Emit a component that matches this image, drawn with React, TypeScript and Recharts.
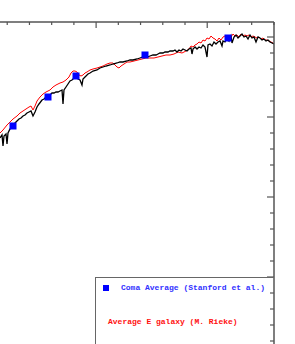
import React from "react";
import { ComposedChart, Line, Scatter, XAxis, YAxis, Legend } from "recharts";

// wavelength (arbitrary units) and normalized flux
const blackWl = [3135,3153,3162,3171,3189,3198,3207,3225,3252,3270,3288,3306,3324,3342,3360,3378,3396,3414,3432,3450,3468,3486,3513,3531,3549,3567,3585,3603,3621,3639,3657,3675,3693,3702,3711,3729,3747,3765,3783,3801,3819,3837,3855,3873,3882,3900,3927,3945,3972,4008,4035,4062,4089,4125,4152,4188,4215,4242,4278,4305,4332,4368,4395,4422,4458,4485,4512,4539,4557,4575,4602,4620,4647,4665,4692,4710,4728,4746,4764,4782,4800,4818,4836,4854,4863,4872,4890,4908,4926,4944,4962,4980,4998,5007,5025,5043,5061,5079,5097,5115,5133,5142,5160,5178,5196,5214,5223,5241,5259,5277,5295,5313,5331,5349,5367,5385,5403,5421,5439,5457,5475,5493,5511,5529,5547,5565,5583,5601];
const blackFlux = [0.7475,0.755,0.7275,0.7525,0.7575,0.7325,0.76,0.77,0.7775,0.785,0.79,0.795,0.7975,0.8025,0.805,0.81,0.8125,0.815,0.8025,0.8125,0.825,0.8325,0.8425,0.845,0.85,0.8525,0.855,0.86,0.86,0.8625,0.8625,0.865,0.8675,0.8325,0.8675,0.875,0.8825,0.89,0.8925,0.8975,0.9,0.895,0.8925,0.88,0.895,0.9,0.9075,0.91,0.915,0.9175,0.9225,0.925,0.9275,0.93,0.9325,0.935,0.9375,0.9375,0.94,0.9425,0.9425,0.945,0.9475,0.95,0.95,0.9525,0.955,0.955,0.9575,0.96,0.96,0.9625,0.9625,0.965,0.965,0.9675,0.9625,0.9675,0.965,0.97,0.9675,0.965,0.97,0.9725,0.9575,0.97,0.975,0.97,0.975,0.9725,0.98,0.975,0.95,0.98,0.9825,0.9775,0.9875,0.9825,0.9875,0.99,0.9775,0.99,0.9875,0.9975,0.99,1.0025,0.985,1.0,1.005,0.9975,1.0025,1.0075,1.0,1.0025,0.995,1.005,0.9975,1.0,0.9875,1.0,0.9975,0.9925,0.995,0.99,0.9925,0.9875,0.985,0.9825];

const redWl = [3135,3162,3198,3225,3252,3288,3315,3342,3369,3396,3414,3432,3450,3468,3495,3522,3549,3585,3612,3639,3675,3702,3729,3756,3774,3792,3810,3828,3846,3864,3882,3900,3918,3945,3972,4008,4035,4062,4098,4125,4152,4170,4188,4206,4224,4251,4278,4305,4341,4377,4413,4449,4485,4521,4557,4593,4629,4665,4701,4737,4773,4809,4836,4854,4872,4890,4908,4926,4944,4962,4980,4998,5016,5034,5052,5070,5088,5106,5124,5142,5160,5178,5196,5214,5232,5250,5268,5286,5304,5322,5340,5358,5376,5394,5412,5430,5448,5466,5484,5502,5520,5538,5556,5574,5592,5601];
const redFlux = [0.76,0.7675,0.78,0.7875,0.795,0.8025,0.81,0.815,0.82,0.825,0.8275,0.8175,0.8275,0.84,0.85,0.8575,0.8625,0.8675,0.875,0.88,0.885,0.8875,0.8925,0.9,0.91,0.915,0.915,0.9125,0.905,0.9025,0.905,0.91,0.9125,0.9175,0.92,0.9225,0.925,0.9275,0.9325,0.935,0.935,0.93,0.925,0.9225,0.9275,0.9325,0.9375,0.9375,0.94,0.9425,0.945,0.9475,0.9475,0.9475,0.95,0.9525,0.955,0.955,0.9575,0.9625,0.96,0.965,0.97,0.9775,0.975,0.98,0.9825,0.9875,0.985,0.9925,0.99,0.9975,0.995,1.0025,0.9975,0.995,0.99,0.9975,0.9925,1.0,1.0025,0.9975,1.005,1.0,1.0075,1.0025,1.005,1.0,1.0075,1.0025,1.005,1.0025,1.005,1.0,1.0025,1.0,0.9975,1.0,0.995,0.9975,0.9925,0.9925,0.99,0.9875,0.985,0.9825];

const comaWl = [3252, 3567, 3819, 4440, 5187];
const comaFlux = [0.7775, 0.85, 0.9025, 0.955, 0.9975];

const xTicks = [3200,3400,3600,3800,4000,4200,4400,4600,4800,5000,5200,5400,5600];
const xMajor = [4000, 5000];
const yTicks = [1.0,0.96,0.92,0.88,0.84,0.8,0.76,0.72,0.68,0.64,0.6,0.56,0.52,0.48,0.44,0.4,0.36,0.32,0.28,0.24,0.2];
const yMajor = [1.0, 0.8, 0.6, 0.4, 0.2];

const legendLabels = ["Coma Average (Stanford et al.)", "Average E galaxy (M. Rieke)"];

const blackData = blackWl.map((wl, i) => ({ wl, flux: blackFlux[i] }));
const redData = redWl.map((wl, i) => ({ wl, flux: redFlux[i] }));
const comaData = comaWl.map((wl, i) => ({ wl, flux: comaFlux[i] }));

const AXIS = "#555";

const TopTick = (props: any) => {
  const { x, y, payload } = props;
  const major = xMajor.includes(payload.value);
  return <line x1={x} x2={x} y1={y} y2={y + (major ? 6 : 3)} stroke={AXIS} strokeWidth={1.2} />;
};

const RightTick = (props: any) => {
  const { x, y, payload } = props;
  const major = yMajor.some((m) => Math.abs(m - payload.value) < 1e-6);
  return <line x1={x} x2={x - (major ? 7 : 4)} y1={y} y2={y} stroke={AXIS} strokeWidth={1.2} />;
};

const SquareShape = (props: any) => {
  const { cx, cy } = props;
  return <rect x={cx - 3.5} y={cy - 3.5} width={7} height={7} fill="#0000ff" />;
};

const LegendBox = () => (
  <div
    style={{
      position: "relative",
      width: 179,
      height: 80,
      borderLeft: "1px solid #666",
      borderTop: "1px solid #666",
      boxSizing: "border-box",
      fontFamily: "'Liberation Mono', monospace",
      fontSize: 8,
      fontWeight: "bold",
      lineHeight: "10px",
    }}
  >
    <div style={{ position: "absolute", left: 7, top: 7, width: 6, height: 6, background: "#0000ff" }} />
    <div style={{ position: "absolute", left: 25, top: 5, color: "#3030ff", whiteSpace: "nowrap" }}>{legendLabels[0]}</div>
    <div style={{ position: "absolute", left: 12, top: 39, color: "#ff1010", whiteSpace: "nowrap" }}>{legendLabels[1]}</div>
  </div>
);

export default function App() {
  return (
    <div style={{ position: "absolute", left: 0, top: 0, width: 295, height: 344, overflow: "hidden", background: "#fff" }}>
      <ComposedChart width={295} height={357} margin={{ top: 0, right: 0, bottom: 0, left: 0 }}>
        <XAxis
          type="number"
          dataKey="wl"
          orientation="top"
          domain={[3135, 5601]}
          ticks={xTicks}
          interval={0}
          height={22}
          tickSize={0}
          tickMargin={0}
          tickLine={false}
          tick={TopTick}
          axisLine={{ stroke: AXIS, strokeWidth: 1.5 }}
          allowDataOverflow
        />
        <YAxis
          type="number"
          dataKey="flux"
          orientation="right"
          domain={[0.2, 1.0375]}
          ticks={yTicks}
          interval={0}
          width={21}
          tickSize={0}
          tickMargin={0}
          tickLine={false}
          tick={RightTick}
          axisLine={{ stroke: AXIS, strokeWidth: 1.5 }}
          allowDataOverflow
        />
        <Line data={redData} dataKey="flux" stroke="#ff0000" strokeWidth={1} dot={false} isAnimationActive={false} />
        <Line data={blackData} dataKey="flux" stroke="#000000" strokeWidth={1.3} dot={false} isAnimationActive={false} />
        <Scatter data={comaData} dataKey="flux" shape={SquareShape} isAnimationActive={false} />
        <Legend
          layout="vertical"
          align="center"
          verticalAlign="middle"
          content={LegendBox}
          wrapperStyle={{ position: "absolute", left: 95, top: 277, width: 179, height: 80, margin: 0, padding: 0 }}
        />
      </ComposedChart>
    </div>
  );
}
